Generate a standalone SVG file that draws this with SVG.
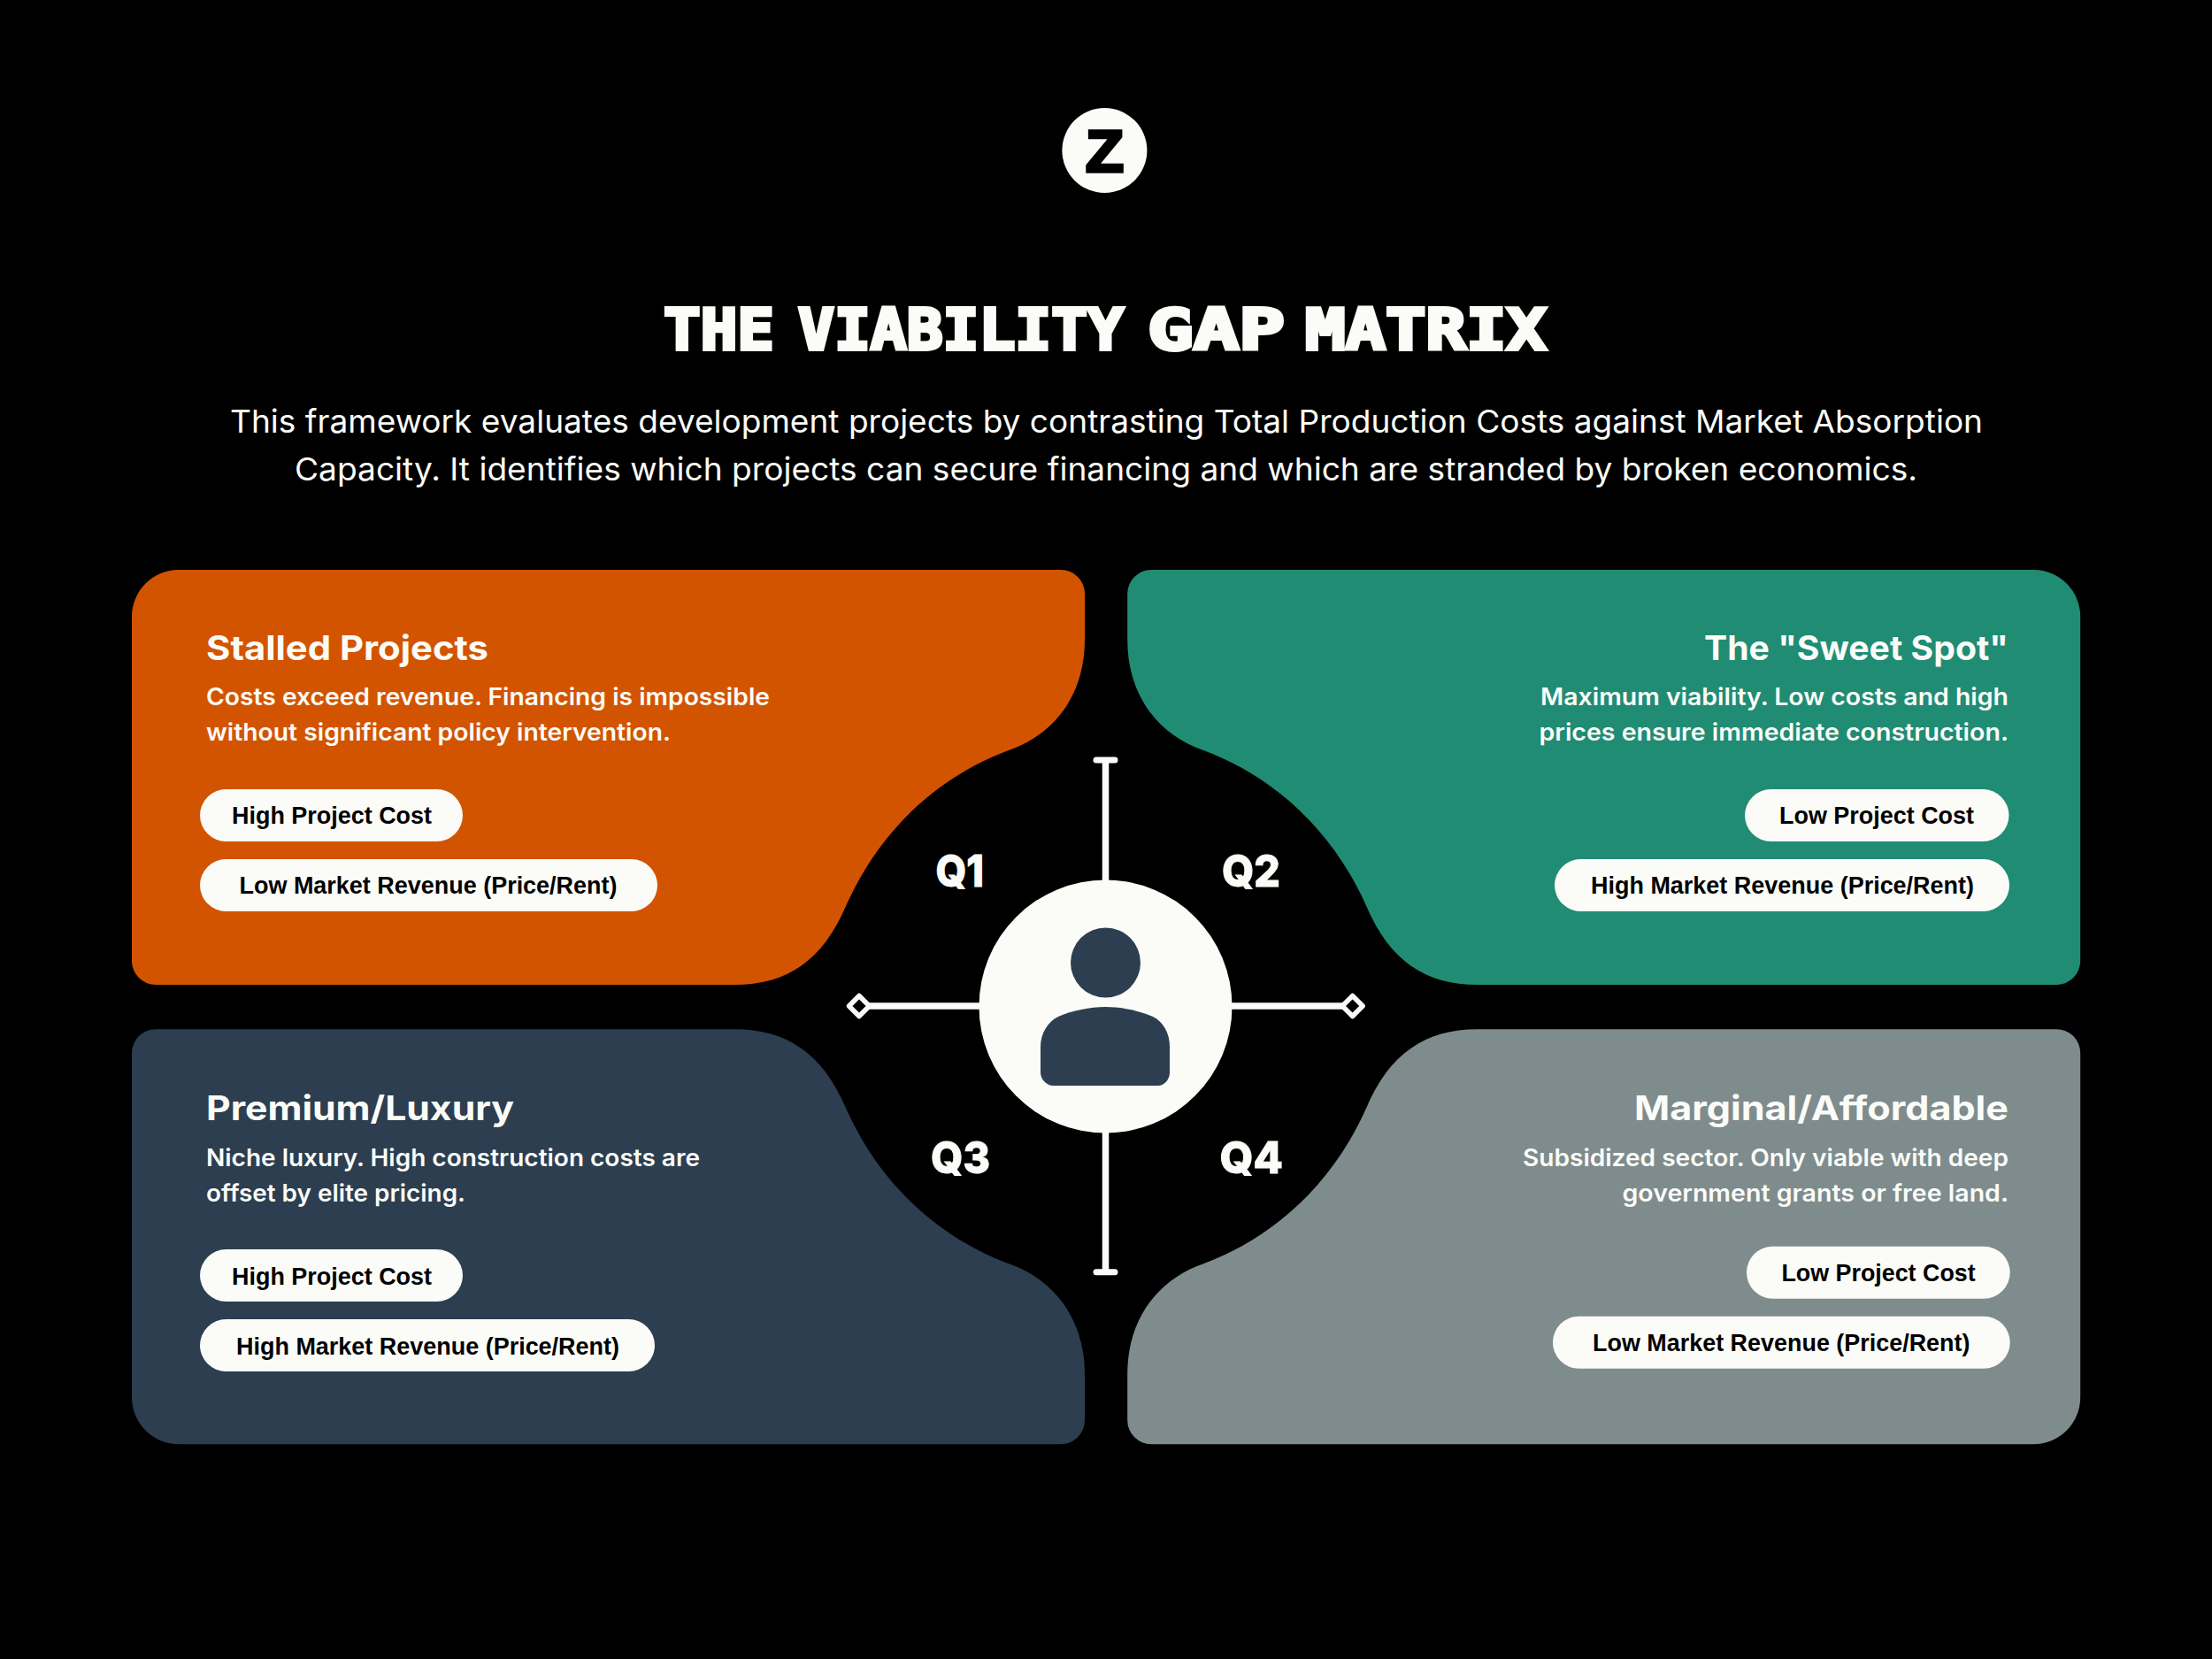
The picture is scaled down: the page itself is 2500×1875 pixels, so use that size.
<svg xmlns="http://www.w3.org/2000/svg" width="2500" height="1875" viewBox="0 0 2500 1875">
<style>
text{fill:#fbfcf8;font-family:"Inter","Liberation Sans",sans-serif}
.h{font-size:38px;font-weight:700}
.d{font-size:27px;font-weight:600}
.s{font-size:36px;font-weight:400}
.q{font-size:50px;font-weight:800;stroke:#fbfcf8;stroke-width:1}
.t{font-family:"DejaVu Sans Mono",monospace;font-size:64px;font-weight:700;stroke:#fbfcf8;stroke-width:4}
.p{font-family:"Liberation Sans",Arial,sans-serif;font-size:27px;font-weight:700;fill:#000}
.pill{fill:#fbfcf8}
.spoke{stroke:#fbfcf8;stroke-width:7.5;fill:none}
</style>
<defs>
<path id="blob" d="M202,644 H1199 A27,27 0 0 1 1226,671 V723 C1226,785 1192,830 1140,848 C1075,872 1000,925 956,1024 C930,1085 890,1113 830,1113 H176 A27,27 0 0 1 149,1086 V697 A53,53 0 0 1 202,644 Z"/>
<marker id="cap" markerUnits="userSpaceOnUse" markerWidth="14" markerHeight="34" refX="7" refY="17" orient="auto" viewBox="0 0 14 34"><rect x="3.5" y="3" width="7" height="28" rx="3.5" fill="#fbfcf8"/></marker>
<marker id="dia" markerUnits="userSpaceOnUse" markerWidth="36" markerHeight="36" refX="18" refY="18" orient="auto" viewBox="0 0 36 36"><path d="M18,6.500 L29.500,18 L18,29.500 L6.500,18 Z" fill="#000" stroke="#fbfcf8" stroke-width="5.500" stroke-linejoin="round"/></marker>
</defs>
<rect width="2500" height="1875" fill="#000"/>
<g id="logo"><circle cx="1248.400" cy="170" r="48" fill="#fbfcf8"/><text x="1248.400" y="194" text-anchor="middle" font-size="66" textLength="43" lengthAdjust="spacingAndGlyphs" style="font-family:'Liberation Sans',sans-serif;font-weight:700;fill:#000;stroke:#000;stroke-width:3.5">Z</text></g>
<g id="heading">
<text class="t" y="395"><tspan x="750" textLength="125" lengthAdjust="spacingAndGlyphs">THE</tspan> <tspan x="902" textLength="368" lengthAdjust="spacingAndGlyphs">VIABILITY</tspan> <tspan x="1297" textLength="155" lengthAdjust="spacingAndGlyphs">GAP</tspan> <tspan x="1475" textLength="273" lengthAdjust="spacingAndGlyphs">MATRIX</tspan></text>
<text class="s" x="260" y="489" textLength="1981" lengthAdjust="spacingAndGlyphs">This framework evaluates development projects by contrasting Total Production Costs against Market Absorption</text>
<text class="s" x="333" y="543" textLength="1834" lengthAdjust="spacingAndGlyphs">Capacity. It identifies which projects can secure financing and which are stranded by broken economics.</text>
</g>
<g id="q1-card">
<use href="#blob" fill="#d35400"/>
<text class="h" x="233" y="746" textLength="319" lengthAdjust="spacingAndGlyphs">Stalled Projects</text>
<text class="d" x="233" y="797" textLength="637" lengthAdjust="spacingAndGlyphs">Costs exceed revenue. Financing is impossible</text>
<text class="d" x="233" y="837" textLength="525" lengthAdjust="spacingAndGlyphs">without significant policy intervention.</text>
<rect class="pill" x="226" y="892" width="297" height="59" rx="29.500"/>
<text class="p" x="262" y="931" textLength="226" lengthAdjust="spacingAndGlyphs">High Project Cost</text>
<rect class="pill" x="226" y="971" width="517" height="59" rx="29.500"/>
<text class="p" x="270.500" y="1010" textLength="427" lengthAdjust="spacingAndGlyphs">Low Market Revenue (Price/Rent)</text>
</g>
<g id="q2-card">
<use href="#blob" fill="#218c74" transform="matrix(-1 0 0 1 2500.200 0)"/>
<text class="h" x="1926" y="746" textLength="344" lengthAdjust="spacingAndGlyphs">The "Sweet Spot"</text>
<text class="d" x="1741" y="797" textLength="529" lengthAdjust="spacingAndGlyphs">Maximum viability. Low costs and high</text>
<text class="d" x="1739.500" y="837" textLength="530.500" lengthAdjust="spacingAndGlyphs">prices ensure immediate construction.</text>
<rect class="pill" x="1972" y="892" width="298.500" height="59" rx="29.500"/>
<text class="p" x="2011" y="931" textLength="220" lengthAdjust="spacingAndGlyphs">Low Project Cost</text>
<rect class="pill" x="1757" y="971" width="514" height="59" rx="29.500"/>
<text class="p" x="1798" y="1010" textLength="433" lengthAdjust="spacingAndGlyphs">High Market Revenue (Price/Rent)</text>
</g>
<g id="q3-card">
<use href="#blob" fill="#2c3e50" transform="matrix(1 0 0 -1 0 2276.200)"/>
<text class="h" x="233" y="1266" textLength="348" lengthAdjust="spacingAndGlyphs">Premium/Luxury</text>
<text class="d" x="233" y="1318" textLength="558" lengthAdjust="spacingAndGlyphs">Niche luxury. High construction costs are</text>
<text class="d" x="233" y="1358" textLength="293" lengthAdjust="spacingAndGlyphs">offset by elite pricing.</text>
<rect class="pill" x="226" y="1412" width="297" height="59" rx="29.500"/>
<text class="p" x="262" y="1452" textLength="226" lengthAdjust="spacingAndGlyphs">High Project Cost</text>
<rect class="pill" x="226" y="1491" width="514" height="59" rx="29.500"/>
<text class="p" x="267" y="1531" textLength="433" lengthAdjust="spacingAndGlyphs">High Market Revenue (Price/Rent)</text>
</g>
<g id="q4-card">
<use href="#blob" fill="#7f8c8d" transform="matrix(-1 0 0 -1 2500.200 2276.200)"/>
<text class="h" x="1847" y="1266" textLength="423" lengthAdjust="spacingAndGlyphs">Marginal/Affordable</text>
<text class="d" x="1721" y="1317.500" textLength="549" lengthAdjust="spacingAndGlyphs">Subsidized sector. Only viable with deep</text>
<text class="d" x="1833.500" y="1358" textLength="436.500" lengthAdjust="spacingAndGlyphs">government grants or free land.</text>
<rect class="pill" x="1974" y="1408.700" width="297.700" height="59" rx="29.500"/>
<text class="p" x="2013.400" y="1447.700" textLength="219.300" lengthAdjust="spacingAndGlyphs">Low Project Cost</text>
<rect class="pill" x="1755" y="1487.700" width="516.700" height="59" rx="29.500"/>
<text class="p" x="1800" y="1527" textLength="426.500" lengthAdjust="spacingAndGlyphs">Low Market Revenue (Price/Rent)</text>
</g>
<g id="connectors">
<path class="spoke" d="M1249.500,1000 V859" marker-end="url(#cap)"/>
<path class="spoke" d="M1249.500,1275 V1437.700" marker-end="url(#cap)"/>
<path class="spoke" d="M1115,1137 H971" marker-end="url(#dia)"/>
<path class="spoke" d="M1385,1137 H1528.600" marker-end="url(#dia)"/>
</g>
<g id="hub">
<circle cx="1249.500" cy="1137.500" r="143" fill="#fbfcf8"/>
<ellipse cx="1249.500" cy="1088" rx="39.500" ry="39.500" fill="#2c3e50"/>
<path fill="#2c3e50" d="M1176,1183 C1176,1168 1184,1155 1196,1149 C1212,1142 1232,1138 1249.500,1138 C1267,1138 1287,1142 1303,1149 C1315,1155 1322,1168 1322,1183 V1212 C1322,1220 1316,1227 1309,1227 H1190 C1183,1227 1176,1220 1176,1212 Z"/>
</g>
<g id="q-labels">
<text class="q" x="1057.500" y="1002" textLength="54.500" lengthAdjust="spacingAndGlyphs">Q1</text>
<text class="q" x="1381" y="1002" textLength="66" lengthAdjust="spacingAndGlyphs">Q2</text>
<text class="q" x="1052" y="1326" textLength="67" lengthAdjust="spacingAndGlyphs">Q3</text>
<text class="q" x="1378.500" y="1326" textLength="71.500" lengthAdjust="spacingAndGlyphs">Q4</text>
</g>
</svg>
